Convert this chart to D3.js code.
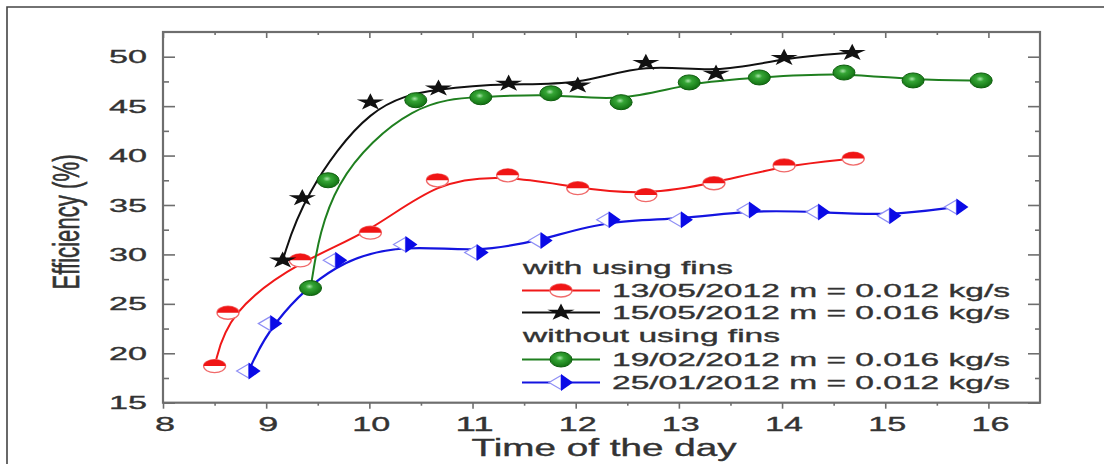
<!DOCTYPE html>
<html>
<head>
<meta charset="utf-8">
<script src="https://cdn.jsdelivr.net/npm/d3@7"></script>
<style>
  html, body { margin: 0; padding: 0; background: #fff; }
  svg { display: block; }
  text { font-family: "Liberation Sans", Arial, sans-serif; fill: #333; stroke: #333; stroke-width: 0.35px; }
</style>
</head>
<body>
<svg id="chart" width="1104" height="464"></svg>
<script>
// Collector efficiency over the day, four test days
const time13 = [8.50, 8.63, 9.33, 10.01, 10.66, 11.34, 12.02, 12.68, 13.34, 14.02, 14.69];
const eff13  = [18.7, 24.1, 29.4, 32.2, 37.5, 38.0, 36.7, 36.0, 37.2, 39.0, 39.7];

const time15 = [9.16, 9.35, 10.01, 10.67, 11.35, 12.02, 12.68, 13.36, 14.02, 14.68];
const eff15  = [29.4, 35.7, 45.4, 46.8, 47.3, 47.1, 49.4, 48.3, 49.9, 50.4];

const time19 = [9.43, 9.60, 10.45, 11.08, 11.76, 12.44, 13.10, 13.78, 14.60, 15.27, 15.93];
const eff19  = [26.6, 37.5, 45.6, 45.9, 46.3, 45.4, 47.4, 47.9, 48.4, 47.6, 47.6];

const time25 = [8.83, 9.04, 9.67, 10.35, 11.04, 11.66, 12.32, 13.02, 13.68, 14.35, 15.04, 15.69];
const eff25  = [18.2, 23.0, 29.4, 31.0, 30.2, 31.4, 33.5, 33.5, 34.5, 34.3, 33.9, 34.8];

const seriesNames = ["13/05/2012 m = 0.012 kg/s", "15/05/2012 m = 0.016 kg/s",
                     "19/02/2012 m = 0.016 kg/s", "25/01/2012 m = 0.012 kg/s"];
const groupTitles = ["with using fins", "without using fins"];

const xMajor = [8, 9, 10, 11, 12, 13, 14, 15, 16];
const xMinor = [8.5, 9.5, 10.5, 11.5, 12.5, 13.5, 14.5, 15.5];
const yMajor = [15, 20, 25, 30, 35, 40, 45, 50];
const yMinor = [17.5, 22.5, 27.5, 32.5, 37.5, 42.5, 47.5];

const xTitle = "Time of the day";
const yTitle = "Efficiency (%)";

const svg = d3.select("#chart");
const L = 163, R = 1040, T = 32, B = 402.7;

const x = d3.scaleLinear().domain([8, 16.5]).range([L, R]);
const y = d3.scaleLinear().domain([15, 52.5]).range([B, T]);

// page border
svg.append("path").attr("d", "M7,464V7H1104")
  .attr("fill", "none").attr("stroke", "#444").attr("stroke-width", 1.6);

// gradient for the sphere markers
const defs = svg.append("defs");
const gg = defs.append("radialGradient").attr("id", "ball")
  .attr("cx", "45%").attr("cy", "40%").attr("r", "60%");
gg.append("stop").attr("offset", "0%").attr("stop-color", "#a8e4a8");
gg.append("stop").attr("offset", "30%").attr("stop-color", "#35a535");
gg.append("stop").attr("offset", "100%").attr("stop-color", "#117011");

// axes: ticks drawn by d3 axes, frame drawn as a rectangle
const axisColor = "#6e6e6e";
function styleAxis(g) {
  g.select(".domain").remove();
  g.selectAll("line").attr("stroke", axisColor).attr("stroke-width", 1.6);
}
svg.append("g").attr("transform", `translate(0,${B})`)
  .call(d3.axisBottom(x).tickValues(xMajor).tickSize(6).tickFormat("")).call(styleAxis);
svg.append("g").attr("transform", `translate(0,${B})`)
  .call(d3.axisBottom(x).tickValues(xMinor).tickSize(3).tickFormat("")).call(styleAxis);
svg.append("g").attr("transform", `translate(0,${T})`)
  .call(d3.axisTop(x).tickValues(xMajor).tickSize(-6).tickFormat("")).call(styleAxis);
svg.append("g").attr("transform", `translate(0,${T})`)
  .call(d3.axisTop(x).tickValues(xMinor).tickSize(-3).tickFormat("")).call(styleAxis);
svg.append("g").attr("transform", `translate(${L},0)`)
  .call(d3.axisLeft(y).tickValues(yMajor).tickSize(-12).tickFormat("")).call(styleAxis);
svg.append("g").attr("transform", `translate(${L},0)`)
  .call(d3.axisLeft(y).tickValues(yMinor).tickSize(-6).tickFormat("")).call(styleAxis);
svg.append("g").attr("transform", `translate(${R},0)`)
  .call(d3.axisRight(y).tickValues(yMajor).tickSize(-12).tickFormat("")).call(styleAxis);
svg.append("g").attr("transform", `translate(${R},0)`)
  .call(d3.axisRight(y).tickValues(yMinor).tickSize(-5).tickFormat("")).call(styleAxis);

svg.append("rect").attr("x", L).attr("y", T).attr("width", R - L).attr("height", B - T)
  .attr("fill", "none").attr("stroke", axisColor).attr("stroke-width", 2.2);

// wide lettering
function wide(sel, len) {
  return sel.attr("textLength", len).attr("lengthAdjust", "spacingAndGlyphs");
}

// tick labels
svg.append("g").selectAll("text").data(yMajor).join("text")
  .attr("x", 147).attr("y", d => y(d) + 6.6)
  .attr("text-anchor", "end").attr("font-size", 18.5)
  .text(d => d).each(function () { wide(d3.select(this), 38); });

svg.append("g").selectAll("text").data(xMajor).join("text")
  .attr("x", d => x(d) + 2).attr("y", 431)
  .attr("text-anchor", "middle").attr("font-size", 20.5)
  .text(d => d).each(function (d) { wide(d3.select(this), String(d).length > 1 ? 38 : 20); });

// axis titles
wide(svg.append("text").attr("x", 604).attr("y", 456).attr("text-anchor", "middle")
  .attr("font-size", 23).text(xTitle), 265);
wide(svg.append("text").attr("transform", "translate(79,222) scale(1.75,1) rotate(-90)")
  .attr("text-anchor", "middle").attr("font-size", 21).text(yTitle), 135);

// series
const series = [
  { t: time13, v: eff13, color: "#f01818", width: 2.0, marker: "halfCircle" },
  { t: time15, v: eff15, color: "#111111", width: 2.0, marker: "star" },
  { t: time19, v: eff19, color: "#1f7f1f", width: 2.0, marker: "ball" },
  { t: time25, v: eff25, color: "#1414e0", width: 2.2, marker: "halfDiamond" }
];

const line = d3.line().curve(d3.curveBasis).x(d => x(d[0])).y(d => y(d[1]));

series.forEach(s => {
  svg.append("path").datum(d3.zip(s.t, s.v))
    .attr("d", line).attr("fill", "none")
    .attr("stroke", s.color).attr("stroke-width", s.width)
    .attr("stroke-linejoin", "round");
});

const starPath = d3.symbol(d3.symbolStar, 90)();

function drawMarker(g, kind) {
  if (kind === "halfCircle") {
    g.append("ellipse").attr("rx", 11).attr("ry", 6.5)
      .attr("fill", "#fff").attr("stroke", "#f06a6a").attr("stroke-width", 1.3);
    g.append("path").attr("d", "M-11,0A11,6.5 0 0 1 11,0Z").attr("fill", "#f01515");
  } else if (kind === "star") {
    g.append("path").attr("d", starPath).attr("transform", "scale(1.6,1)")
      .attr("fill", "#111");
  } else if (kind === "ball") {
    g.append("ellipse").attr("rx", 11).attr("ry", 7.5)
      .attr("fill", "url(#ball)").attr("stroke", "#0e5e0e").attr("stroke-width", 1);
  } else if (kind === "halfDiamond") {
    g.append("path").attr("d", "M0,-7L-12,0L0,7Z")
      .attr("fill", "#fff").attr("stroke", "#8f8ff5").attr("stroke-width", 1.2);
    g.append("path").attr("d", "M0,-8.5L12,0L0,8.5Z").attr("fill", "#0a0ae6");
  }
}

series.forEach(s => {
  d3.zip(s.t, s.v).forEach(p => {
    const g = svg.append("g").attr("transform", `translate(${x(p[0])},${y(p[1])})`);
    drawMarker(g, s.marker);
  });
});

// legend
const legend = svg.append("g");
const headerRows = [274, 342];
const entryRows = [297, 319, 366, 389];
groupTitles.forEach((t, i) => {
  wide(legend.append("text").attr("x", 523).attr("y", headerRows[i])
    .attr("font-size", 19).text(t), i === 0 ? 210 : 257);
});
series.forEach((s, i) => {
  const cy = entryRows[i] - 6.5;
  legend.append("line").attr("x1", 522).attr("x2", 600).attr("y1", cy).attr("y2", cy)
    .attr("stroke", s.color).attr("stroke-width", s.width);
  drawMarker(legend.append("g").attr("transform", `translate(561,${cy})`), s.marker);
  wide(legend.append("text").attr("x", 612).attr("y", entryRows[i])
    .attr("font-size", 18.5).text(seriesNames[i]), 398);
});
</script>
</body>
</html>
